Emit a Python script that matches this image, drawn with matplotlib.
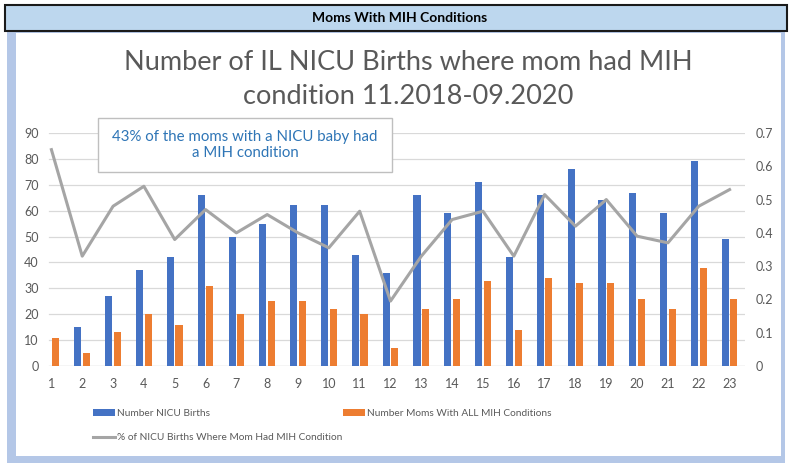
import matplotlib.pyplot as plt
from matplotlib.patches import Rectangle
import numpy as np

months = list(range(1, 24))
nicu_births = [0, 15, 27, 37, 42, 66, 50, 55, 62, 62, 43, 36, 66, 59, 71, 42, 66, 76, 64, 67, 59, 79, 49]
mih_moms = [11, 5, 13, 20, 16, 31, 20, 25, 25, 22, 20, 7, 22, 26, 33, 14, 34, 32, 32, 26, 22, 38, 26]
pct_mih = [0.65, 0.33, 0.48, 0.54, 0.38, 0.47, 0.40, 0.455, 0.40, 0.355, 0.465, 0.195,
           0.33, 0.44, 0.465, 0.33, 0.515, 0.42, 0.50, 0.39, 0.37, 0.48, 0.53]

W, H = 792, 463
fig = plt.figure(figsize=(W / 100, H / 100), dpi=100)
plt.rcParams['font.family'] = ['Lato', 'DejaVu Sans']

def px(x, y):
    # pixel coords (top-left origin) -> figure fraction
    return x / W, 1 - y / H

# outer frame + header bar
fig.patches.append(Rectangle(px(7, H), (W - 14) / W, 1 - 31 / H, transform=fig.transFigure,
                             facecolor='#B4C7E7', edgecolor='none', zorder=-3))
fig.patches.append(Rectangle(px(16, 456), (W - 16 - 11) / W, (456 - 33) / H, transform=fig.transFigure,
                             facecolor='white', edgecolor='none', zorder=-2))
fig.patches.append(Rectangle(px(5, 31), (W - 10) / W, 26 / H, transform=fig.transFigure,
                             facecolor='#BDD7EE', edgecolor='#1a1a1a', lw=1.5, zorder=-1))
fig.text(*px(400, 18), 'Moms With MIH Conditions', ha='center', va='center',
         fontsize=10, fontweight='bold', color='black')

fig.text(*px(408, 80), 'Number of IL NICU Births where mom had MIH\ncondition 11.2018-09.2020',
         ha='center', va='center', fontsize=19.5, color='#595959', linespacing=1.45)

# plot area: categories from x=36 to 745, values from y=133 to 366
ax = fig.add_axes([36 / W, 97 / H, 709 / W, 233 / H])
ax.set_zorder(2)
x = np.arange(len(months))
bw = 0.23
b1 = ax.bar(x - 0.14, nicu_births, bw, color='#4472C4', zorder=2)
b2 = ax.bar(x + 0.14, mih_moms, bw, color='#ED7D31', zorder=2)
ax.set_ylim(0, 90)
ax.set_xlim(-0.5, len(months) - 0.5)
ax.set_yticks(range(0, 91, 10))
ax.set_xticks(x)
ax.set_xticklabels([str(m) for m in months])
grid_start = 13 / 709
for v in range(10, 91, 10):
    ax.axhline(v, xmin=grid_start, color='#D9D9D9', lw=0.9, zorder=0)
ax.axhline(0, xmin=grid_start, color='#D0D0D0', lw=1.0, zorder=1)
for s in ['top', 'right', 'left', 'bottom']:
    ax.spines[s].set_visible(False)
ax.tick_params(length=0, colors='#595959', labelsize=9)
ax.tick_params(axis='x', pad=9)
ax.tick_params(axis='y', pad=-2)

ax2 = ax.twinx()
ax2.set_zorder(3)
ax2.patch.set_visible(False)
l1, = ax2.plot(x, pct_mih, color='#A5A5A5', lw=2.2, zorder=3)
ax2.set_ylim(0, 0.7)
ax2.set_yticks(np.arange(0, 0.71, 0.1))
ax2.set_yticklabels(['0', '0.1', '0.2', '0.3', '0.4', '0.5', '0.6', '0.7'])
for s in ['top', 'right', 'left', 'bottom']:
    ax2.spines[s].set_visible(False)
ax2.tick_params(length=0, colors='#595959', labelsize=9, pad=8)

# callout box
fig.patches.append(Rectangle(px(98, 172), 294 / W, 54 / H, transform=fig.transFigure,
                             facecolor='white', edgecolor='#BFBFBF', lw=1.0, zorder=10))
fig.text(*px(245, 145), '43% of the moms with a NICU baby had\na MIH condition',
         ha='center', va='center', fontsize=10.8, color='#2E75B6', linespacing=1.25, zorder=11)

fig.legend([b1, l1, b2], ['Number NICU Births', '% of NICU Births Where Mom Had MIH Condition',
                          'Number Moms With ALL MIH Conditions'],
           ncol=2, loc='upper left', bbox_to_anchor=px(84, 400), frameon=False,
           fontsize=7.3, labelcolor='#595959', handlelength=2.2, handleheight=0.6,
           handletextpad=0.2, columnspacing=0.0, labelspacing=1.5)

fig.savefig('out.png', dpi=100)
